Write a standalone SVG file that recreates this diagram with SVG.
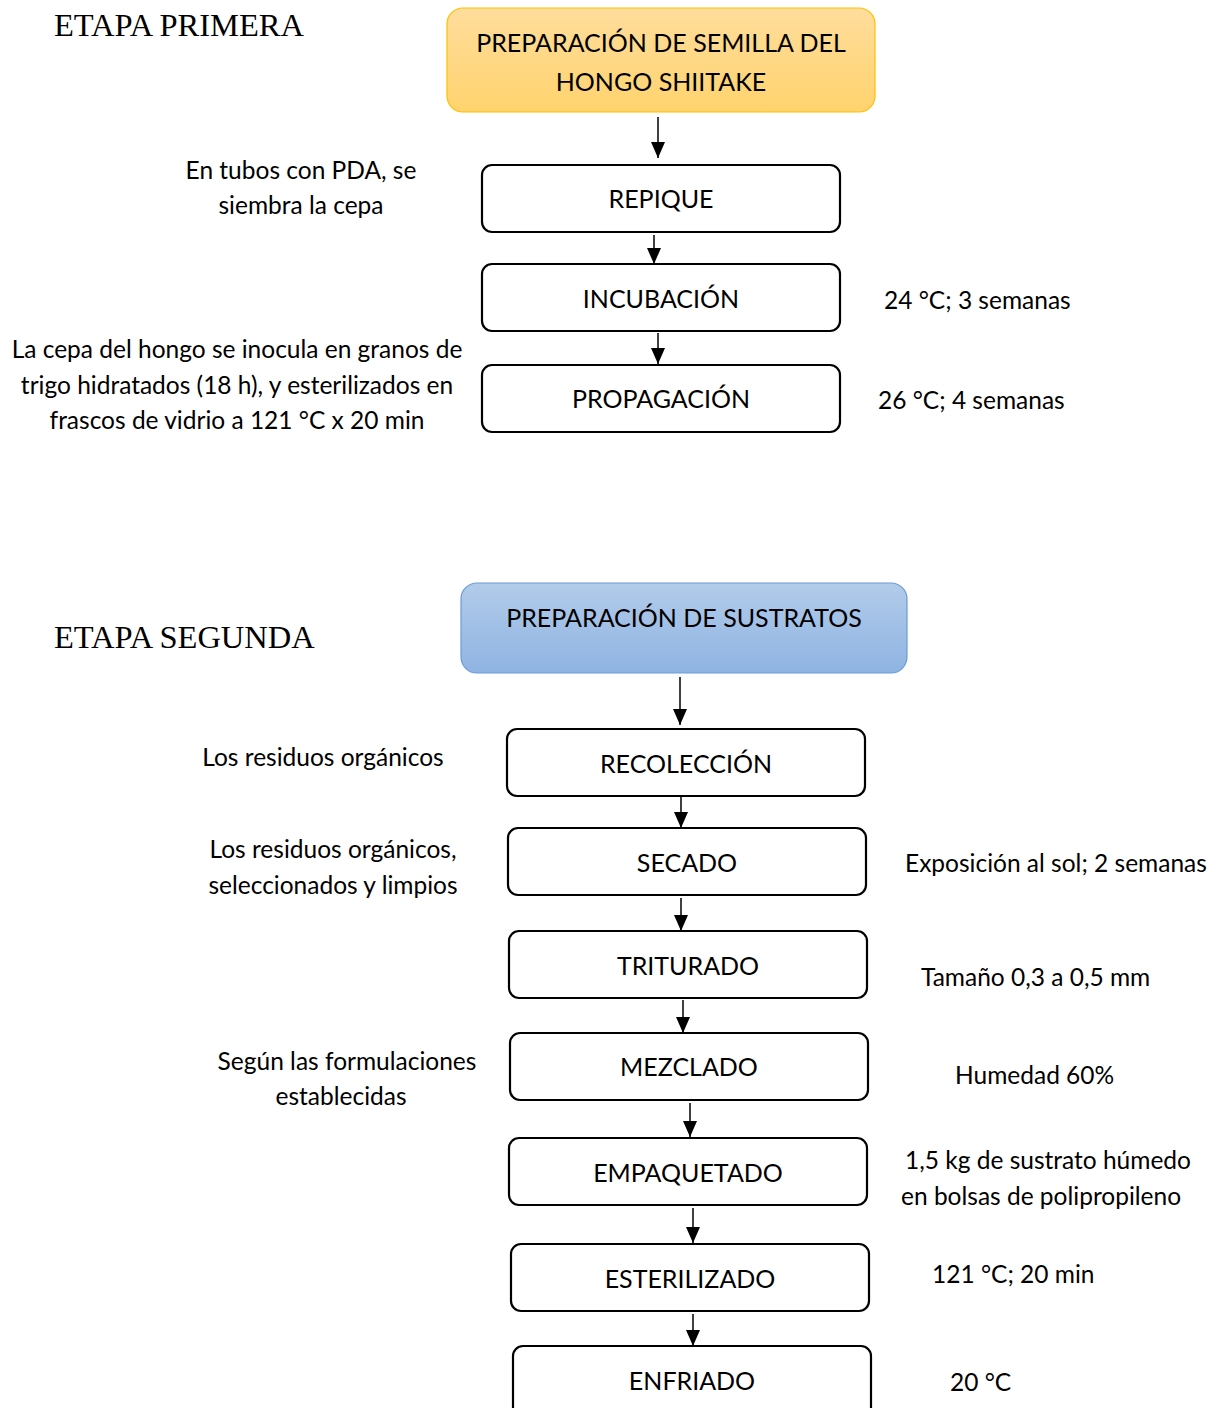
<svg xmlns="http://www.w3.org/2000/svg" width="1224" height="1408" viewBox="0 0 1224 1408">
<style>
text{font-family:Lato,"Open Sans",sans-serif;font-size:24.5px;fill:#000;dominant-baseline:central}
.t{font-size:25px;text-anchor:middle}
.m{text-anchor:middle}
.ttl{font-family:"Liberation Serif",serif;font-size:32.5px;dominant-baseline:auto}
.box{fill:#fff;stroke:#000;stroke-width:2.2}
.c{stroke:#000;stroke-width:1.5;fill:none;marker-end:url(#ah)}
</style>
<defs>
<linearGradient id="gy" x1="0" y1="0" x2="0" y2="1"><stop offset="0" stop-color="#FFDD9C"/><stop offset="1" stop-color="#FFD36E"/></linearGradient>
<linearGradient id="gb" x1="0" y1="0" x2="0" y2="1"><stop offset="0" stop-color="#B2CBEA"/><stop offset="1" stop-color="#8FB4E2"/></linearGradient>
<marker id="ah" markerUnits="userSpaceOnUse" markerWidth="16" markerHeight="18" refX="16" refY="7" orient="auto"><path d="M0,0 L16,7 L0,14 Z" fill="#000"/></marker>
</defs>
<text class="ttl" x="54" y="36">ETAPA PRIMERA</text>
<text class="ttl" x="54" y="648">ETAPA SEGUNDA</text>
<g id="connectors">
<line class="c" x1="658" y1="117" x2="658" y2="158"/>
<line class="c" x1="654" y1="235" x2="654" y2="264"/>
<line class="c" x1="658" y1="333" x2="658" y2="364"/>
<line class="c" x1="680" y1="677" x2="680" y2="725"/>
<line class="c" x1="681" y1="797" x2="681" y2="828"/>
<line class="c" x1="681" y1="898" x2="681" y2="931"/>
<line class="c" x1="683" y1="1000" x2="683" y2="1033"/>
<line class="c" x1="690" y1="1103" x2="690" y2="1137"/>
<line class="c" x1="693" y1="1208" x2="693" y2="1243"/>
<line class="c" x1="693" y1="1314" x2="693" y2="1346"/>
</g>
<g id="semilla"><rect x="447" y="8" width="428" height="104" rx="16" fill="url(#gy)" stroke="#FFC000" stroke-width="1.2"/><text class="t" x="661" y="42">PREPARACIÓN DE SEMILLA DEL</text><text class="t" x="661" y="81">HONGO SHIITAKE</text></g>
<g id="repique"><rect class="box" x="482" y="165" width="358" height="67" rx="10"/><text class="t" x="661" y="198">REPIQUE</text></g>
<g id="incubacion"><rect class="box" x="482" y="264" width="358" height="67" rx="10"/><text class="t" x="661" y="298">INCUBACIÓN</text></g>
<g id="propagacion"><rect class="box" x="482" y="365" width="358" height="67" rx="10"/><text class="t" x="661" y="398">PROPAGACIÓN</text></g>
<g id="sustratos"><rect x="461" y="583" width="446" height="90" rx="16" fill="url(#gb)" stroke="#6C9BD5" stroke-width="1.2"/><text class="t" x="684" y="617">PREPARACIÓN DE SUSTRATOS</text></g>
<g id="recoleccion"><rect class="box" x="507" y="729" width="358" height="67" rx="10"/><text class="t" x="686" y="763">RECOLECCIÓN</text></g>
<g id="secado"><rect class="box" x="508" y="828" width="358" height="67" rx="10"/><text class="t" x="687" y="862">SECADO</text></g>
<g id="triturado"><rect class="box" x="509" y="931" width="358" height="67" rx="10"/><text class="t" x="688" y="965">TRITURADO</text></g>
<g id="mezclado"><rect class="box" x="510" y="1033" width="358" height="67" rx="10"/><text class="t" x="689" y="1066">MEZCLADO</text></g>
<g id="empaquetado"><rect class="box" x="509" y="1138" width="358" height="67" rx="10"/><text class="t" x="688" y="1172">EMPAQUETADO</text></g>
<g id="esterilizado"><rect class="box" x="511" y="1244" width="358" height="67" rx="10"/><text class="t" x="690" y="1278">ESTERILIZADO</text></g>
<g id="enfriado"><rect class="box" x="513" y="1346" width="358" height="80" rx="10"/><text class="t" x="692" y="1380">ENFRIADO</text></g>
<g id="notes">
<text class="m" x="301" y="169">En tubos con PDA, se</text>
<text class="m" x="301" y="204">siembra la cepa</text>
<text x="884" y="299">24 °C; 3 semanas</text>
<text class="m" x="237" y="348">La cepa del hongo se inocula en granos de</text>
<text class="m" x="237" y="384">trigo hidratados (18 h), y esterilizados en</text>
<text class="m" x="237" y="419">frascos de vidrio a 121 °C x 20 min</text>
<text x="878" y="399">26 °C; 4 semanas</text>
<text class="m" x="323" y="756">Los residuos orgánicos</text>
<text class="m" x="333" y="848">Los residuos orgánicos,</text>
<text class="m" x="333" y="884">seleccionados y limpios</text>
<text x="905" y="862">Exposición al sol; 2 semanas</text>
<text x="921" y="976">Tamaño 0,3 a 0,5 mm</text>
<text class="m" x="347" y="1060">Según las formulaciones</text>
<text class="m" x="341" y="1095">establecidas</text>
<text x="955" y="1074">Humedad 60%</text>
<text x="905" y="1159">1,5 kg de sustrato húmedo</text>
<text x="901" y="1195">en bolsas de polipropileno</text>
<text x="932" y="1273">121 °C; 20 min</text>
<text x="950" y="1381">20 °C</text>
</g>
</svg>
